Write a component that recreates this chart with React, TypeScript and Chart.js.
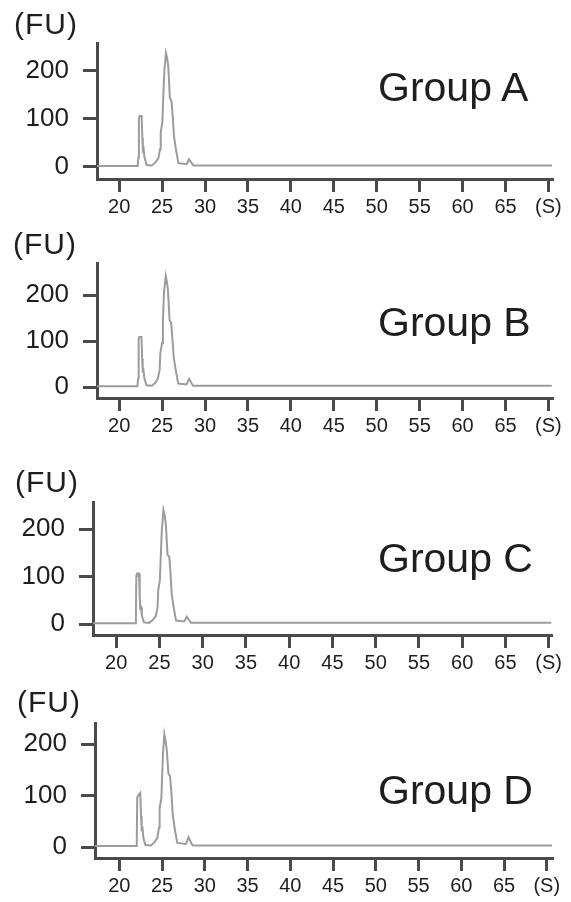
import React, { useEffect, useRef } from "react";
import { Chart, registerables } from "chart.js";

Chart.register(...registerables);

const groupNames = ["Group A", "Group B", "Group C", "Group D"];
const yAxisUnit = "(FU)";
const yTickValues = [0, 100, 200];
const xTickValues = [20, 25, 30, 35, 40, 45, 50, 55, 60, 65, 70];
const xTickLabels = ["20", "25", "30", "35", "40", "45", "50", "55", "60", "65", "(S)"];

const groupAX = [17.42, 22.15, 22.25, 22.3, 22.38, 22.62, 22.7, 22.76, 22.85, 22.95, 23.2, 23.8, 24.2, 24.56, 24.76, 24.84, 25.03, 25.14, 25.26, 25.45, 25.6, 25.72, 25.91, 26.1, 26.24, 26.39, 26.63, 26.9, 27.87, 28.14, 28.45, 28.64, 70.4];
const groupAY = [2, 2, 20, 100, 106, 106, 60, 35, 38, 20, 4, 3, 9, 18, 37, 72, 93, 146, 199, 237, 226, 209, 143, 137, 105, 63, 35, 8, 6, 16, 8, 3, 3];

const groupBX = [17.42, 22.12, 22.22, 22.27, 22.35, 22.6, 22.68, 22.74, 22.83, 22.93, 23.18, 23.8, 24.2, 24.5, 24.72, 24.8, 25.0, 25.1, 25.22, 25.42, 25.55, 25.68, 25.88, 26.06, 26.2, 26.36, 26.6, 26.88, 27.85, 28.15, 28.45, 28.62, 70.4];
const groupBY = [2, 2, 20, 104, 109, 109, 62, 36, 38, 20, 4, 3, 9, 18, 38, 75, 96, 150, 205, 242, 230, 212, 145, 140, 106, 64, 36, 8, 6, 18, 8, 3, 3];

const groupCX = [17.32, 22.2, 22.28, 22.33, 22.4, 22.64, 22.72, 22.78, 22.87, 22.97, 23.22, 23.82, 24.22, 24.58, 24.78, 24.86, 25.05, 25.16, 25.28, 25.46, 25.62, 25.74, 25.94, 26.14, 26.28, 26.42, 26.66, 26.92, 27.88, 28.16, 28.46, 28.64, 70.3];
const groupCY = [2, 2, 20, 102, 107, 107, 58, 34, 36, 18, 4, 3, 9, 17, 36, 72, 92, 145, 198, 240, 228, 210, 146, 142, 108, 64, 34, 8, 6, 16, 8, 3, 3];

const groupDX = [17.16, 21.98, 22.05, 22.1, 22.2, 22.45, 22.55, 22.62, 22.72, 22.82, 23.05, 23.7, 24.1, 24.45, 24.65, 24.72, 24.92, 25.02, 25.12, 25.27, 25.42, 25.55, 25.75, 25.94, 26.1, 26.25, 26.5, 26.78, 27.8, 28.1, 28.4, 28.6, 70.6];
const groupDY = [2, 2, 20, 96, 100, 105, 60, 34, 36, 18, 4, 3, 9, 18, 38, 75, 95, 140, 185, 219, 205, 190, 142, 138, 104, 64, 34, 8, 6, 19, 8, 3, 3];

const seriesX = [groupAX, groupBX, groupCX, groupDX];
const seriesY = [groupAY, groupBY, groupCY, groupDY];

// layout of each panel (pixels) and axis ranges
const panelLayout = [
  { left: 97, right: 553, plotTop: 43, plotBottom: 179, xMin: 17.42, xMax: 70.53, yMin: -25, yMax: 258, fuTop: 9, fuLeft: 14, labelTop: 67 },
  { left: 97, right: 553, plotTop: 263, plotBottom: 398, xMin: 17.42, xMax: 70.53, yMin: -23.6, yMax: 270, fuTop: 229, fuLeft: 13, labelTop: 302 },
  { left: 93, right: 552, plotTop: 502, plotBottom: 635, xMin: 17.32, xMax: 70.39, yMin: -22.5, yMax: 257, fuTop: 467, fuLeft: 15, labelTop: 538 },
  { left: 95, right: 553, plotTop: 723, plotBottom: 858, xMin: 17.16, xMax: 70.73, yMin: -21.3, yMax: 241, fuTop: 687, fuLeft: 17, labelTop: 770 },
];

const FONT = "'Liberation Sans', Arial, Helvetica, sans-serif";
const AXIS_COLOR = "#4a4a4a";
const TEXT_COLOR = "#1e1e1e";
const TRACE_COLOR = "#9c9c9c";
const TOP_PAD = 10;
const X_AXIS_H = 42;
const WIDTH = 571;

function Panel({ index }: { index: number }) {
  const ref = useRef<HTMLCanvasElement | null>(null);
  const L = panelLayout[index];
  const plotH = L.plotBottom - L.plotTop;
  const canvasH = plotH + TOP_PAD + X_AXIS_H;

  useEffect(() => {
    if (!ref.current) return;
    const xs = seriesX[index];
    const ys = seriesY[index];
    const chart = new Chart(ref.current, {
      type: "line",
      data: {
        datasets: [
          {
            data: xs.map((x, i) => ({ x, y: ys[i] })),
            borderColor: TRACE_COLOR,
            borderWidth: 2,
            pointRadius: 0,
            tension: 0,
            fill: false,
          },
        ],
      },
      options: {
        animation: false,
        responsive: false,
        devicePixelRatio: 1,
        layout: { padding: { left: 0, right: WIDTH - L.right, top: TOP_PAD, bottom: 0 } },
        plugins: { legend: { display: false }, tooltip: { enabled: false }, title: { display: false } },
        scales: {
          x: {
            type: "linear",
            min: L.xMin,
            max: L.xMax,
            afterBuildTicks: (scale: any) => {
              scale.ticks = xTickValues.map((v) => ({ value: v }));
            },
            afterFit: (scale: any) => {
              scale.height = X_AXIS_H;
              scale.paddingLeft = 0;
              scale.paddingRight = 0;
            },
            ticks: {
              callback: (_v: any, i: number) => xTickLabels[i],
              font: { family: FONT, size: 20 },
              color: TEXT_COLOR,
              padding: 3,
              maxRotation: 0,
              autoSkip: false,
            },
            grid: {
              display: true,
              drawOnChartArea: false,
              drawTicks: true,
              tickLength: 13,
              tickWidth: 3,
              tickColor: AXIS_COLOR,
            },
            border: { display: true, color: AXIS_COLOR, width: 3 },
          },
          y: {
            type: "linear",
            min: L.yMin,
            max: L.yMax,
            afterBuildTicks: (scale: any) => {
              scale.ticks = yTickValues.map((v) => ({ value: v }));
            },
            afterFit: (scale: any) => {
              scale.width = L.left;
              scale.paddingTop = 0;
              scale.paddingBottom = 0;
            },
            ticks: {
              callback: (v: any) => String(v),
              font: { family: FONT, size: 26 },
              color: TEXT_COLOR,
              padding: 14,
              autoSkip: false,
            },
            grid: {
              display: true,
              drawOnChartArea: false,
              drawTicks: true,
              tickLength: 14,
              tickWidth: 3,
              tickColor: AXIS_COLOR,
            },
            border: { display: true, color: AXIS_COLOR, width: 3 },
          },
        },
      },
    });
    return () => chart.destroy();
  }, [index]);

  return (
    <>
      <canvas
        ref={ref}
        width={WIDTH}
        height={canvasH}
        style={{ position: "absolute", left: 0, top: L.plotTop - TOP_PAD, width: WIDTH, height: canvasH }}
      />
      <div
        style={{
          position: "absolute",
          left: L.fuLeft,
          top: L.fuTop,
          font: `30px ${FONT}`,
          lineHeight: "30px",
          letterSpacing: "1px",
          color: TEXT_COLOR,
          whiteSpace: "nowrap",
        }}
      >
        {yAxisUnit}
      </div>
      <div
        style={{
          position: "absolute",
          left: 378,
          top: L.labelTop,
          font: `41px ${FONT}`,
          lineHeight: "41px",
          color: TEXT_COLOR,
          whiteSpace: "nowrap",
        }}
      >
        {groupNames[index]}
      </div>
    </>
  );
}

export default function App() {
  return (
    <div
      style={{
        position: "absolute",
        left: 0,
        top: 0,
        width: WIDTH,
        height: 902,
        overflow: "hidden",
        background: "#fff",
      }}
    >
      {groupNames.map((_, i) => (
        <Panel key={i} index={i} />
      ))}
    </div>
  );
}
